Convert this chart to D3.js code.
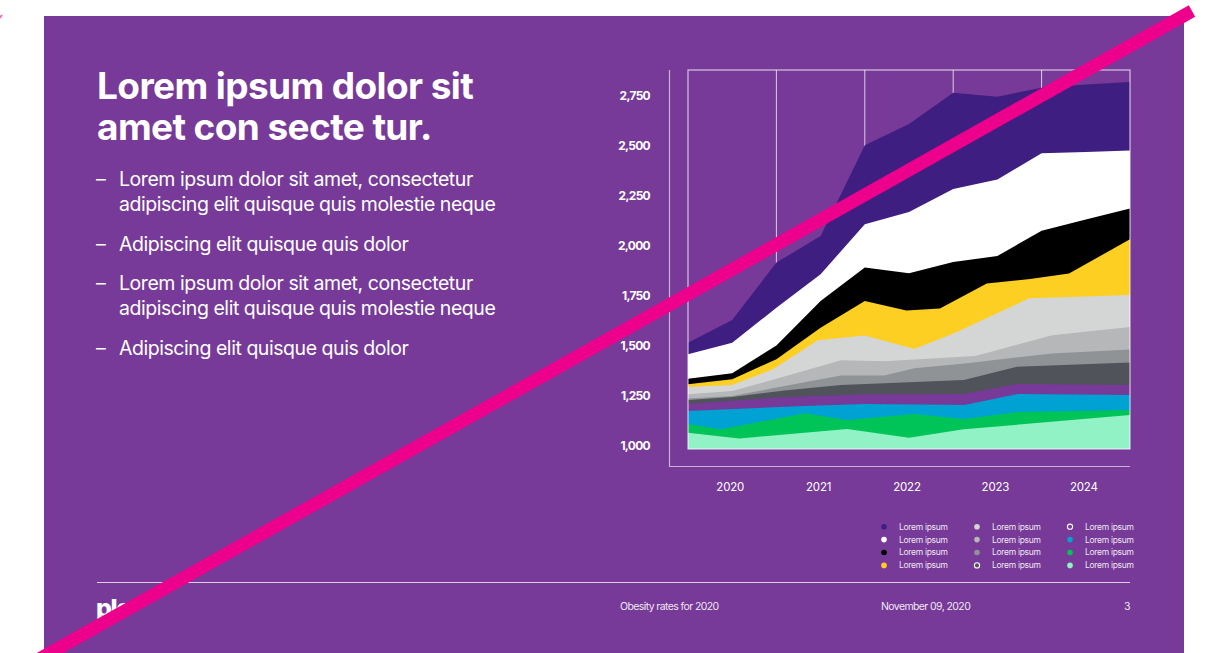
<!DOCTYPE html>
<html>
<head>
<meta charset="utf-8">
<script src="https://cdn.jsdelivr.net/npm/d3@7"></script>
<style>
  html, body { margin: 0; padding: 0; background: #ffffff; }
  svg { display: block; font-family: Inter, "Noto Sans", "Liberation Sans", sans-serif; }
</style>
</head>
<body>
<svg id="slide" width="1208" height="653"></svg>
<script>
// ---- data -------------------------------------------------------------
const years = [2020, 2021, 2022, 2023, 2024];
const yTicks = [1000, 1250, 1500, 1750, 2000, 2250, 2500, 2750];

// Each band is given by the running total along its upper edge: [year, total]
const bandDarkPurple = [[2019.5,1511],[2020,1625],[2020.5,1911],[2021,2044],[2021.5,2496],[2022,2603],[2022.5,2759],[2023,2739],[2023.5,2784],[2024,2800],[2024.5,2812]];
const bandWhite      = [[2019.5,1454],[2020,1511],[2020.5,1686],[2021,1853],[2021.5,2102],[2022,2164],[2022.5,2278],[2023,2326],[2023.5,2457],[2024,2463],[2024.5,2470]];
const bandBlack      = [[2019.5,1332],[2020,1359],[2020.5,1498],[2021,1720],[2021.5,1886],[2022,1858],[2022.5,1914],[2023,1944],[2023.5,2070],[2024,2126],[2024.5,2181]];
const bandYellow     = [[2019.5,1304],[2020,1329],[2020.5,1429],[2021,1586],[2021.5,1720],[2021.97,1672],[2022.35,1682],[2022.88,1807],[2023.37,1829],[2023.81,1857],[2024.5,2027]];
const bandGrey1      = [[2019.5,1290],[2020,1300],[2020.46,1379],[2020.97,1523],[2021.5,1547],[2022.06,1480],[2022.53,1562],[2023.36,1733],[2023.82,1740],[2024.5,1750]];
const bandGrey2      = [[2019.5,1254],[2020,1270],[2020.59,1343],[2021.23,1424],[2021.72,1419],[2022.75,1445],[2023.62,1549],[2024.5,1590]];
const bandGrey3      = [[2019.5,1233],[2020,1245],[2020.59,1295],[2021.23,1348],[2021.72,1348],[2022.06,1384],[2022.63,1408],[2023.62,1458],[2024.5,1477]];
const bandGrey4      = [[2019.5,1226],[2020,1240],[2020.59,1273],[2021.23,1300],[2022.62,1325],[2023.22,1392],[2024.5,1412]];
const bandPurple     = [[2019.5,1206],[2020.5,1238],[2021.5,1254],[2022.62,1255],[2023.22,1305],[2024.5,1300]];
const bandBlue       = [[2019.5,1171],[2020.81,1196],[2021.5,1205],[2022.63,1201],[2023.23,1255],[2024.5,1250]];
const bandGreen      = [[2019.5,1106],[2019.87,1079],[2020.82,1159],[2021.3,1126],[2022.06,1156],[2022.62,1131],[2023.23,1166],[2024.5,1176]];
const bandMint       = [[2019.5,1062],[2020.08,1034],[2021.3,1081],[2022,1037],[2022.62,1079],[2024.5,1151]];

const legendLabels = ["Lorem ipsum","Lorem ipsum","Lorem ipsum","Lorem ipsum","Lorem ipsum","Lorem ipsum",
                      "Lorem ipsum","Lorem ipsum","Lorem ipsum","Lorem ipsum","Lorem ipsum","Lorem ipsum"];

const titleLines = ["Lorem ipsum dolor sit", "amet con secte tur."];
const bullets = [
  ["Lorem ipsum dolor sit amet, consectetur", "adipiscing elit quisque quis molestie neque"],
  ["Adipiscing elit quisque quis dolor"],
  ["Lorem ipsum dolor sit amet, consectetur", "adipiscing elit quisque quis molestie neque"],
  ["Adipiscing elit quisque quis dolor"]
];
const footerTopic = "Obesity rates for 2020";
const footerDate = "November 09, 2020";
const footerPage = "3";

// ---- styling ----------------------------------------------------------
const BG = "#773a98";
const bands = [
  { data: bandDarkPurple, color: "#3f1e82" },
  { data: bandWhite,      color: "#ffffff" },
  { data: bandBlack,      color: "#000000" },
  { data: bandYellow,     color: "#fdcf22" },
  { data: bandGrey1,      color: "#d4d6d6" },
  { data: bandGrey2,      color: "#b5b7b8" },
  { data: bandGrey3,      color: "#909396" },
  { data: bandGrey4,      color: "#505359" },
  { data: bandPurple,     color: BG },
  { data: bandBlue,       color: "#00a1d3" },
  { data: bandGreen,      color: "#00c457" },
  { data: bandMint,       color: "#90f2c5" }
];
const ringed = new Set([7, 8]);   // legend dots drawn with a white outline

const svg = d3.select("#slide");

// slide background
svg.append("rect").attr("x", 44).attr("y", 16).attr("width", 1140).attr("height", 637).attr("fill", BG);

// ---- left text column -------------------------------------------------
svg.append("g").selectAll("text").data(titleLines).join("text")
  .attr("x", 97).attr("y", (d, i) => 98.5 + i * 41.5)
  .attr("fill", "#fff").attr("font-size", 37).attr("font-weight", 700)
  .attr("letter-spacing", -0.6)
  .text(d => d);

const bulletTops = [186, 251, 290, 355];
const bg = svg.append("g").attr("fill", "#fff").attr("font-size", 19.5).attr("letter-spacing", -0.45);
bullets.forEach((lines, i) => {
  bg.append("text").attr("x", 96).attr("y", bulletTops[i]).text("–");
  lines.forEach((ln, j) => {
    bg.append("text").attr("x", 119).attr("y", bulletTops[i] + j * 25).text(ln);
  });
});

// ---- chart ------------------------------------------------------------
const x = d3.scaleLinear().domain([2019.5, 2024.5]).range([688, 1130]);
const y = d3.scaleLinear().domain([981, 2872]).range([449, 70]);
const plotTop = y.range()[1], plotBottom = y.range()[0];

// band separators
svg.append("g").selectAll("line").data([2020.5, 2021.5, 2022.5, 2023.5]).join("line")
  .attr("x1", d => x(d)).attr("x2", d => x(d))
  .attr("y1", plotTop).attr("y2", plotBottom)
  .attr("stroke", "rgba(255,255,255,0.75)").attr("stroke-width", 1);

// bands: each filled from its upper edge down to the baseline, highest first
const area = d3.area()
  .x(d => x(d[0]))
  .y0(plotBottom)
  .y1(d => y(d[1]));
svg.append("g").selectAll("path").data(bands).join("path")
  .attr("d", d => area(d.data))
  .attr("fill", d => d.color);

// plot frame and outer axis lines
svg.append("rect")
  .attr("x", x.range()[0]).attr("y", plotTop)
  .attr("width", x.range()[1] - x.range()[0]).attr("height", plotBottom - plotTop)
  .attr("fill", "none").attr("stroke", "rgba(255,255,255,0.7)").attr("stroke-width", 1.2);
svg.append("path")
  .attr("d", `M669.5,${plotTop} V466.5 H${x.range()[1]}`)
  .attr("fill", "none").attr("stroke", "rgba(255,255,255,0.6)").attr("stroke-width", 1.2);

// value axis
const yAxis = svg.append("g").attr("transform", "translate(650,0.8)")
  .call(d3.axisLeft(y).tickValues(yTicks).tickFormat(d3.format(",")).tickSize(0).tickPadding(0));
yAxis.select(".domain").remove();
yAxis.selectAll("text")
  .attr("fill", "#fff").attr("font-size", 12).attr("font-weight", 700)
  .attr("letter-spacing", -0.7).attr("font-family", "Inter, sans-serif");

// year axis
const xAxis = svg.append("g").attr("transform", "translate(-2.5,483)")
  .call(d3.axisBottom(x).tickValues(years).tickFormat(d3.format("d")).tickSize(0).tickPadding(0));
xAxis.select(".domain").remove();
xAxis.selectAll("text")
  .attr("fill", "#fff").attr("font-size", 11.5)
  .attr("letter-spacing", -0.2).attr("font-family", "Inter, sans-serif");

// legend: three columns of four
const legend = svg.append("g").selectAll("g").data(bands).join("g")
  .attr("transform", (d, i) => `translate(${884 + Math.floor(i / 4) * 93},${526.7 + (i % 4) * 12.9})`);
legend.append("circle")
  .attr("r", (d, i) => ringed.has(i) ? 2.6 : 2.8)
  .attr("fill", d => d.color)
  .attr("stroke", (d, i) => ringed.has(i) ? "#fff" : "none")
  .attr("stroke-width", 1.1);
legend.append("text")
  .attr("x", 15).attr("dy", "0.35em")
  .attr("fill", "rgba(255,255,255,0.9)").attr("font-size", 8.5).attr("letter-spacing", -0.3)
  .text((d, i) => legendLabels[i]);

// ---- footer -----------------------------------------------------------
svg.append("line").attr("x1", 97).attr("x2", 1130).attr("y1", 582.5).attr("y2", 582.5)
  .attr("stroke", "rgba(255,255,255,0.75)").attr("stroke-width", 1);
const ft = svg.append("g").attr("fill", "rgba(255,255,255,0.9)").attr("font-size", 10.5).attr("letter-spacing", -0.6);
ft.append("text").attr("x", 620).attr("y", 610).text(footerTopic);
ft.append("text").attr("x", 881).attr("y", 610).text(footerDate);
ft.append("text").attr("x", 1130).attr("y", 610).attr("text-anchor", "end").text(footerPage);
svg.append("text").attr("x", 96).attr("y", 617).attr("fill", "#fff")
  .attr("font-size", 25).attr("font-weight", 800).attr("letter-spacing", -1.5).text("plc");

// ---- diagonal strike --------------------------------------------------
svg.append("line").attr("x1", 25).attr("y1", 667).attr("x2", 1192).attr("y2", 11)
  .attr("stroke", "#ec008c").attr("stroke-width", 13);
svg.append("line").attr("x1", -2).attr("y1", 20).attr("x2", 2).attr("y2", 15)
  .attr("stroke", "#ec008c").attr("stroke-width", 2).attr("opacity", 0.6);
</script>
</body>
</html>
